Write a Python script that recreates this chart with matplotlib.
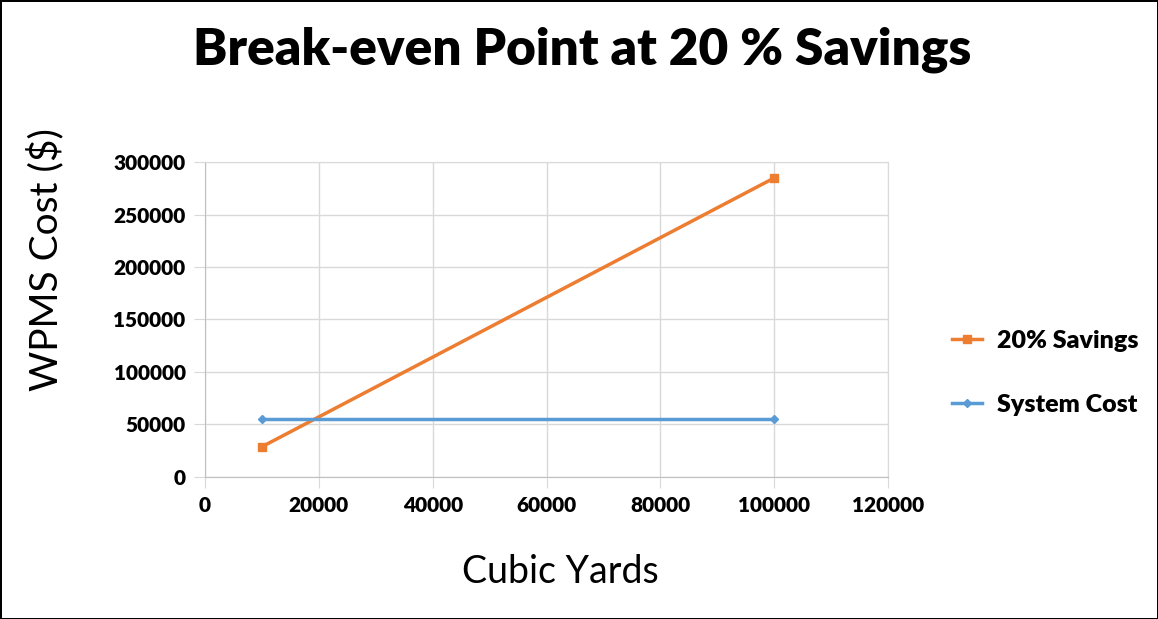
import matplotlib.pyplot as plt

# Datos
cubic_yards = [10000, 100000]
savings_20 = [28500, 285000]
system_cost = [55000, 55000]
x_ticks = [0, 20000, 40000, 60000, 80000, 100000, 120000]
y_ticks = [0, 50000, 100000, 150000, 200000, 250000, 300000]

plt.rcParams['font.family'] = ['Lato', 'DejaVu Sans']

fig = plt.figure(figsize=(11.58, 6.19), dpi=100, edgecolor='black', linewidth=2)
ax = fig.add_axes([0.177, 0.230, 0.590, 0.508])

ax.plot(cubic_yards, savings_20, color='#ED7D31', lw=2.5, marker='s', ms=6,
        label='20% Savings')
ax.plot(cubic_yards, system_cost, color='#5B9BD5', lw=2.5, marker='D', ms=4,
        label='System Cost')

ax.set_xlim(0, 120000)
ax.set_ylim(0, 300000)
ax.set_xticks(x_ticks)
ax.set_yticks(y_ticks)
ax.grid(True, color='#D9D9D9', lw=1)
ax.set_axisbelow(True)
for s in ax.spines.values():
    s.set_color('#D9D9D9')
ax.spines['left'].set_color('#BFBFBF')
ax.spines['bottom'].set_color('#BFBFBF')
ax.tick_params(length=8, color='#D9D9D9', labelsize=15, pad=6)
for lab in ax.get_xticklabels() + ax.get_yticklabels():
    lab.set_fontweight('heavy')

ax.set_xlabel('Cubic Yards', fontsize=27)
ax.xaxis.label.set_va('center')
ax.xaxis.set_label_coords(0.52, -0.303)
ax.set_ylabel('WPMS Cost ($)', fontsize=28)
ax.yaxis.label.set_va('center')
ax.yaxis.set_label_coords(-0.234, 0.69)
fig.suptitle('Break-even Point at 20 % Savings', fontsize=37, fontweight='heavy',
             x=0.503, y=0.92, va='center')

leg = ax.legend(loc='center left', bbox_to_anchor=(1.06, 0.33), frameon=False,
                fontsize=18, handlelength=1.2, handletextpad=0.6, labelspacing=1.7)
for t in leg.get_texts():
    t.set_fontweight('heavy')

fig.savefig('out.png', dpi=100, edgecolor=fig.get_edgecolor())
